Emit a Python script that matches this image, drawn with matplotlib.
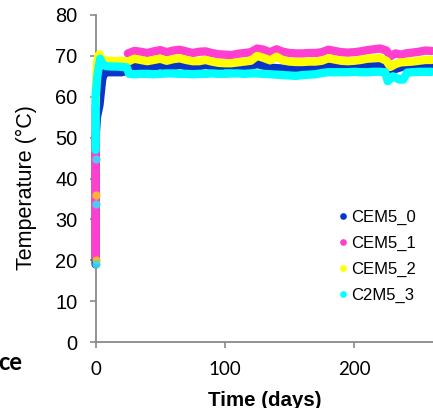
import numpy as np
import matplotlib
matplotlib.use("Agg")
import matplotlib.pyplot as plt
from matplotlib.lines import Line2D

nan = np.nan

# ---------------- data ----------------
series_names = ["CEM5_0", "CEM5_1", "CEM5_2", "C2M5_3"]
series_colors = ["#0a36c8", "#ff3fd0", "#ffff00", "#00ffff"]

plateau_days = [25, 30, 35, 40, 45, 50, 55, 60, 65, 70, 75, 80, 85, 90, 95,
                100, 105, 110, 115, 120, 125, 130, 135, 140, 145, 150, 155,
                160, 165, 170, 175, 180, 185, 190, 195, 200, 205, 210, 215,
                220, 225, 228, 232, 236, 240, 245, 250, 255, 260]

# CEM5_0 (blue)
blue_days = [0, 0, 1, 2, 3, 4, 5, 6, 8, 12, 16, 20, 24] + plateau_days[1:]
blue_temp = [19, 50, 55, 56.5, 58, 61, 64, 65.5, 66.0, 66.0, 66.0, 66.0, 66.3,
             67.5, 67.2, 67.1, 67.4, 67.7, 67.3, 67.5, 67.8, 67.5, 67.2,
             67.5, 67.8, 67.5, 67.3, 67.7, 67.6, 67.4, 67.5, 67.6, 68.0,
             67.6, 67.1, 67.0, 66.9, 66.8, 66.8, 66.9, 67.0, 67.1, 67.2,
             67.4, 67.5, 67.4, 67.5, 67.6, 67.7, 67.8, 67.9, 68.0, 67.4,
             66.3, 66.8, 67.2, 67.6, 67.7, 67.8, 67.9, 67.9]

# CEM5_1 (magenta) : start-up rise, gap, then plateau from day 25
pink_days = [0, 0, nan] + plateau_days
pink_temp = [21, 58, nan,
             70.6, 71.2, 71.0, 70.7, 71.1, 71.4, 70.9, 71.3, 71.5, 71.1,
             70.7, 71.0, 71.1, 70.7, 70.4, 70.3, 70.2, 70.5, 70.7, 70.9,
             71.8, 71.5, 70.9, 71.6, 71.0, 70.7, 70.6, 70.6, 70.7, 70.7,
             70.9, 71.5, 71.2, 70.9, 70.8, 70.9, 71.1, 71.4, 71.6, 71.8,
             71.3, 69.9, 70.6, 70.3, 70.6, 70.8, 71.0, 71.3, 71.2]

# CEM5_2 (yellow)
yellow_days = [0, 1, 2, 3, 5, 10, 15, 20] + plateau_days
yellow_temp = [58, 68, 70.0, 70.4, 69.0, 68.8, 68.7, 68.8,
               68.6, 69.3, 69.0, 68.7, 69.0, 69.3, 68.8, 69.2, 69.4, 69.0,
               68.7, 68.7, 69.0, 68.6, 68.3, 68.2, 68.2, 68.4, 68.6, 68.8,
               70.0, 69.5, 68.9, 69.8, 68.9, 68.6, 68.5, 68.5, 68.6, 68.6,
               68.8, 69.4, 69.1, 68.8, 68.7, 68.8, 69.0, 69.3, 69.4, 69.5,
               68.8, 67.3, 68.0, 68.4, 68.5, 68.6, 68.8, 69.0, 69.0]
yellow_sparse_days = [0, 0]
yellow_sparse_temp = [20, 36]

# C2M5_3 (cyan)
cyan_days = [0, 0, 1, 2, 3.5, 5, 8, 12, 16, 20, 24, 26, 30, 35, 40, 45, 50,
             55, 60, 65, 70, 75, 80, 85, 90, 95, 100, 105, 110, 115, 120,
             125, 130, 135, 140, 145, 150, 155, 160, 165, 170, 175, 180,
             185, 190, 195, 200, 205, 210, 215, 220, 224, 226, 230, 235,
             238, 241, 245, 250, 255, 260]
cyan_temp = [47, 60, 64, 66.5, 69.3, 68.2, 67.5, 67.4, 67.4, 67.3, 67.2,
             65.6, 65.5, 65.6, 65.6, 65.5, 65.6, 65.7, 65.7, 65.6, 65.6,
             65.5, 65.6, 65.6, 65.7, 65.6, 65.6, 65.7, 65.7, 65.6, 65.7,
             65.7, 65.6, 65.5, 65.4, 65.3, 65.2, 65.1, 65.3, 65.4, 65.5,
             65.8, 66.0, 66.0, 66.0, 66.0, 66.1, 66.0, 66.0, 66.1, 66.1,
             66.0, 63.8, 65.0, 64.2, 64.2, 65.9, 66.0, 66.1, 66.1, 66.1]
cyan_sparse_days = [0, 0, 0]
cyan_sparse_temp = [19, 33.8, 44.8]

x_ticks = [0, 100, 200]
y_ticks = [0, 10, 20, 30, 40, 50, 60, 70, 80]

# ---------------- figure ----------------
W, H = 433, 408
fig = plt.figure(figsize=(W / 100, H / 100), dpi=100)
ax_left, ax_right, ax_bottom, ax_top = 95.6, 433, 342, 15
ax = fig.add_axes([ax_left / W, (H - ax_bottom) / H,
                   (ax_right - ax_left) / W, (ax_bottom - ax_top) / H])
ax.set_xlim(0, 261)
ax.set_ylim(0, 80)

grey = "#8a8a8a"
for s in ["top", "right"]:
    ax.spines[s].set_visible(False)
for s in ["left", "bottom"]:
    ax.spines[s].set_color(grey)
    ax.spines[s].set_linewidth(1.3)

lw = 6.0
kw = dict(lw=lw, solid_capstyle="round", solid_joinstyle="round", clip_on=False)
ax.plot(blue_days, blue_temp, color=series_colors[0], zorder=3, **kw)
ax.plot(pink_days, pink_temp, color=series_colors[1], zorder=4, **kw)
ax.plot(yellow_days, yellow_temp, color=series_colors[2], zorder=5, **kw)
ax.plot(yellow_sparse_days, yellow_sparse_temp, "o", ms=6, color="#ffc020",
        alpha=0.9, zorder=5.5, clip_on=False, mec="none")
ax.plot(cyan_days, cyan_temp, color=series_colors[3], zorder=6, **kw)
ax.plot(cyan_sparse_days, cyan_sparse_temp, "o", ms=6, color="#40d8f0",
        alpha=0.9, zorder=6.5, clip_on=False, mec="none")

ax.set_yticks(y_ticks)
ax.set_xticks(x_ticks)
ax.tick_params(axis="y", direction="out", length=4.5, width=1.2, color=grey,
               pad=8.5, labelsize=14.4)
ax.tick_params(axis="x", direction="out", length=4.0, width=1.2, color=grey,
               pad=10, labelsize=13.5)
for t in ax.get_yticklabels():
    t.set_family("Liberation Sans")
for t in ax.get_xticklabels():
    t.set_family("Lato")

fig.text(26 / W, (H - 187.5) / H, "Temperature (°C)", rotation=90,
         ha="center", va="center", fontsize=15.5, family="Liberation Sans")
fig.text((ax_left + ax_right) / 2 / W, (H - 406.5) / H, "Time (days)",
         ha="center", va="baseline", fontsize=14.8, fontweight="bold",
         family="Liberation Sans")
fig.text(22 / W, (H - 370) / H, "ce", ha="right", va="baseline",
         fontsize=17, fontweight="bold", family="Lato")

handles = [Line2D([], [], ls="none", marker="o", ms=4.8, color=c, mec="none")
           for c in series_colors]
leg = ax.legend(handles, series_names, loc="upper left",
                bbox_to_anchor=(339.4 / W, (H - 209.5) / H),
                bbox_transform=fig.transFigure, frameon=False,
                handlelength=0.4, handletextpad=0.28, labelspacing=0.66,
                borderpad=0, borderaxespad=0,
                prop={"family": "Liberation Sans", "size": 12})

fig.savefig("out.png", dpi=100)
